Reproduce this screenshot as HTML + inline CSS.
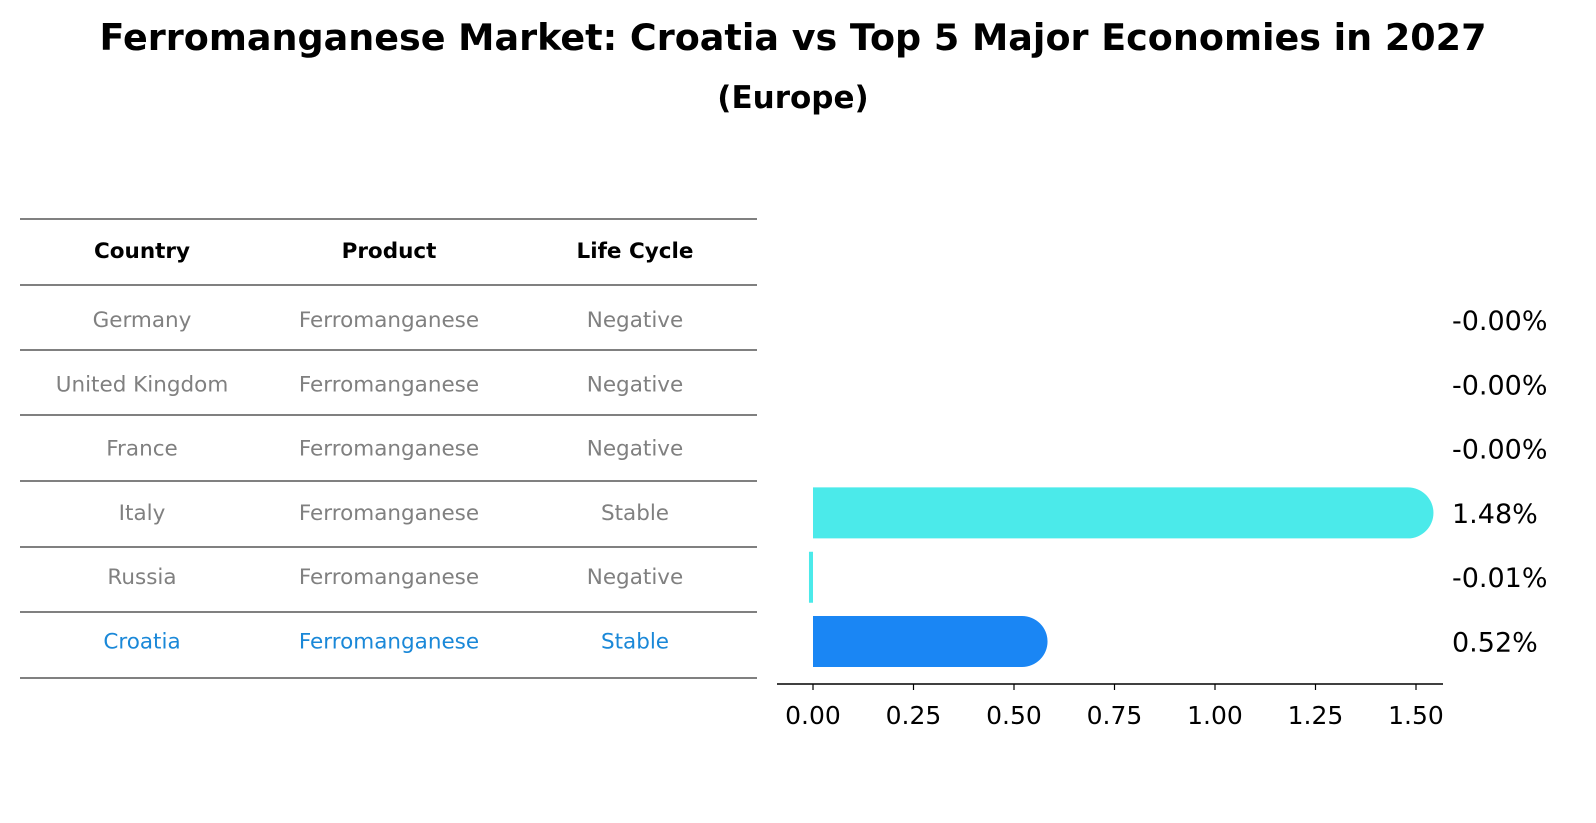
<!DOCTYPE html>
<html><head><meta charset="utf-8"><style>
html,body{margin:0;padding:0;background:#fff;overflow:hidden;width:1596px;height:823px;}
svg{display:block;}
svg text{font-family:"DejaVu Sans","Liberation Sans",sans-serif;}
</style></head><body>
<svg width="1596" height="823" xmlns="http://www.w3.org/2000/svg">
<text x="793" y="50" text-anchor="middle" font-size="36.5" font-weight="bold">Ferromanganese Market: Croatia vs Top 5 Major Economies in 2027</text>
<text x="793" y="108" text-anchor="middle" font-size="31" font-weight="bold">(Europe)</text>
<g id="table"></g>
<g id="bars"></g>
</svg>
<script>
const countries=["Germany","United Kingdom","France","Italy","Russia","Croatia"];
const products=["Ferromanganese","Ferromanganese","Ferromanganese","Ferromanganese","Ferromanganese","Ferromanganese"];
const lifeCycles=["Negative","Negative","Negative","Stable","Negative","Stable"];
const values=[-0.0,-0.0,-0.0,1.48,-0.01,0.52];
const valueLabels=["-0.00%","-0.00%","-0.00%","1.48%","-0.01%","0.52%"];
const ticks=[0,0.25,0.5,0.75,1.0,1.25,1.5];
const NS="http://www.w3.org/2000/svg";
function mk(tag,attrs,parent){const e=document.createElementNS(NS,tag);for(const k in attrs)e.setAttribute(k,attrs[k]);parent.appendChild(e);return e;}
const tbl=document.getElementById('table');
const lineYs=[219,285,350,415,481,547,612,678];
lineYs.forEach((y,i)=>{const l=mk('line',{x1:20,x2:757,y1:y,y2:y,stroke:'#000','stroke-width':1},tbl);

});
const colX=[142,389,635];
["Country","Product","Life Cycle"].forEach((h,i)=>{const t=mk('text',{x:colX[i],y:258,'text-anchor':'middle','font-size':21.5,'font-weight':'bold'},tbl);t.textContent=h;

});
function rowY(i){return 320+i*64.3;}
countries.forEach((c,i)=>{const col=c==="Croatia"?"#1a88d8":"#808080";
[c,products[i],lifeCycles[i]].forEach((v,j)=>{const t=mk('text',{x:colX[j],y:rowY(i)+7,'text-anchor':'middle','font-size':21.5,fill:col},tbl);t.textContent=v;

});});
const g=document.getElementById('bars');
const x0=813,scale=402;function xs(v){return x0+v*scale;}
const axY=684;
const ax=mk('line',{x1:777,x2:1443,y1:axY,y2:axY,stroke:'#000','stroke-width':1.5},g);


ticks.forEach(t=>{const l=mk('line',{x1:xs(t),x2:xs(t),y1:axY,y2:axY+6,stroke:'#000','stroke-width':1.2},g);


const tx=mk('text',{x:xs(t),y:axY+40,'text-anchor':'middle','font-size':25},g);tx.textContent=t.toFixed(2);

});
const bh=51,r=25.5;
values.forEach((v,i)=>{const cy=rowY(i);const col=countries[i]==="Croatia"?"#1a86f4":"#4beaea";
if(Math.abs(v)>0.0001){let d;
if(v>0){const xe=xs(v);d=`M${x0},${cy-bh/2} L${xe},${cy-bh/2} A${r},${r} 0 0 1 ${xe},${cy+bh/2} L${x0},${cy+bh/2} Z`;}
else{d=`M${xs(v)},${cy-bh/2} L${x0},${cy-bh/2} L${x0},${cy+bh/2} L${xs(v)},${cy+bh/2} Z`;}
const p=mk('path',{d:d,fill:col},g);

}
const t=mk('text',{x:1452,y:cy+10,'font-size':27},g);t.textContent=valueLabels[i];

});
</script>
</body></html>
